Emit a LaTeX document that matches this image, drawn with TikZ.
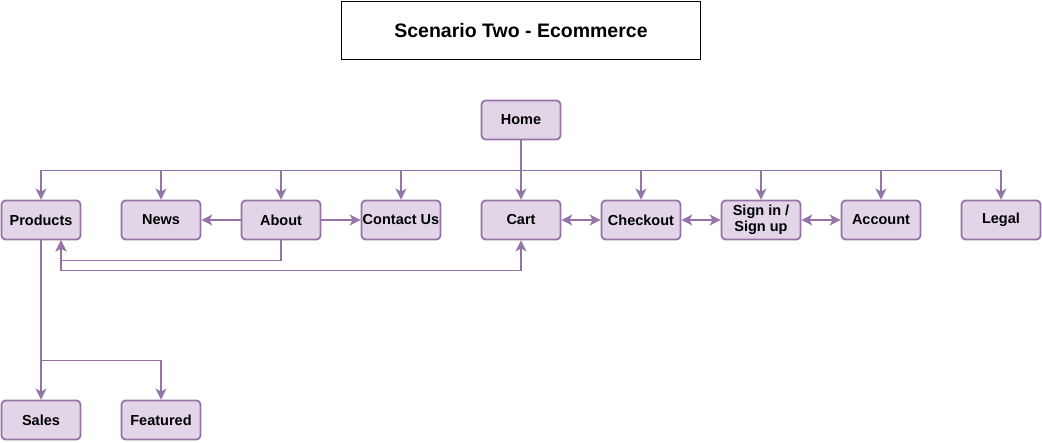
\documentclass[tikz,border=0pt]{standalone}
\usepackage{fontspec}
\setmainfont{Liberation Sans}
\usetikzlibrary{arrows.meta}
\definecolor{linepurple}{HTML}{9673A6}
\definecolor{boxpurple}{HTML}{E1D5E7}
\begin{document}
\begin{tikzpicture}[x=1pt,y=-1pt,
	heading/.style={draw=black,line width=1pt,minimum width=359pt,minimum height=58pt,font=\fontsize{19.5}{22}\selectfont\bfseries},
	page/.style={draw=linepurple,fill=boxpurple,rounded corners=4pt,line width=1.8pt,minimum width=79pt,minimum height=39pt,inner sep=0pt,align=center,font=\fontsize{14.5}{16}\selectfont\bfseries},
	link/.style={draw=linepurple,line width=1.8pt,-{Stealth[length=11pt,width=11pt,inset=3pt]}},
	twoway/.style={link,{Stealth[length=11pt,width=11pt,inset=3pt]}-{Stealth[length=11pt,width=11pt,inset=3pt]}}]
	\useasboundingbox (0,0) rectangle (1042,442);
	\node[heading] (title) at (521,30.5) {Scenario Two - Ecommerce};
	\node[page] (home) at (521,120) {Home};
	\node[page] (products) at (41,220) {Products};
	\node[page] (news) at (161,220) {News};
	\node[page] (about) at (281,220) {About};
	\node[page] (contact) at (401,220) {Contact Us};
	\node[page] (cart) at (521,220) {Cart};
	\node[page] (checkout) at (641,220) {Checkout};
	\node[page] (signin) at (761,220) {Sign in /\\Sign up};
	\node[page] (account) at (881,220) {Account};
	\node[page] (legal) at (1001,220) {Legal};
	\node[page] (sales) at (41,420) {Sales};
	\node[page] (featured) at (161,420) {Featured};
	\path (home.south) ++ (0,30) coordinate (bus)
	(products.south) ++ (0,120) coordinate (split);
	\draw[link] (home) -- (cart);
	\foreach \n in {products,news,about,contact,checkout,signin,account,legal}
		\draw[link] (bus) -| (\n);
	\draw[link] (about) -- (news);
	\draw[link] (about) -- (contact);
	\draw[twoway] (cart) -- (checkout);
	\draw[twoway] (checkout) -- (signin);
	\draw[twoway] (signin) -- (account);
	\draw[link] (about.south) -- ++(0,20) -| ([xshift=20pt]products.south);
	\draw[twoway] (cart.south) -- ++(0,30) -| ([xshift=20pt]products.south);
	\draw[link] (products) -- (sales);
	\draw[link] (split) -| (featured);
\end{tikzpicture}
\end{document}
